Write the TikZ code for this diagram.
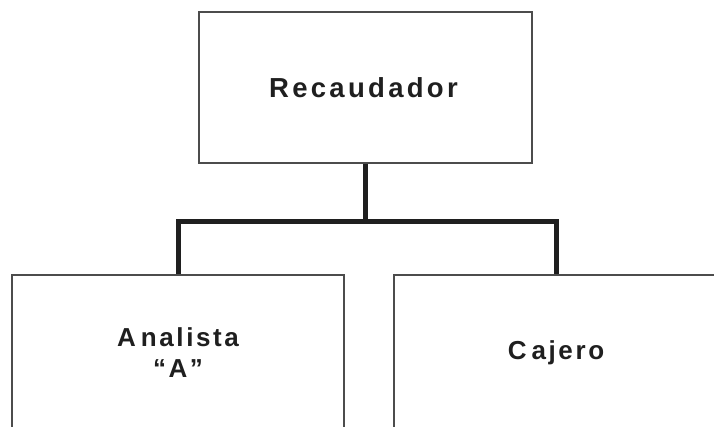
\documentclass[tikz,border=0pt]{standalone}
\usepackage{fontspec}
\setmainfont{Liberation Sans}[LetterSpace=10]
\begin{document}
\begin{tikzpicture}[x=1pt,y=-1pt,
  box/.style={draw=black!70,line width=1.1pt,rectangle,inner sep=0pt,font=\bfseries\fontsize{26}{31}\selectfont,text=black!88,align=center},
  conn/.style={draw=black!88,line width=5pt,line join=miter}]
\useasboundingbox (0,0) rectangle (714,426);
\clip (0,0) rectangle (714,426);
\node[box,minimum width=333pt,minimum height=151pt,font=\bfseries\fontsize{27.5}{31}\selectfont\addfontfeature{LetterSpace=12}] (top) at (365.5,87.5) {Recaudador\hspace{4pt}};
\node[box,minimum width=332pt,minimum height=155pt] (left) at (178,352.5) {A\hspace{5pt}nalista\\``A''};
\node[box,minimum width=324pt,minimum height=155pt] (right) at (556,352.5) {C\hspace{5pt}ajero};
\coordinate (j) at (365.5,221.5);
\draw[conn] (top.south) -- (j) -| (left.north);
\draw[conn] (j) -| (right.north);
\end{tikzpicture}
\end{document}
